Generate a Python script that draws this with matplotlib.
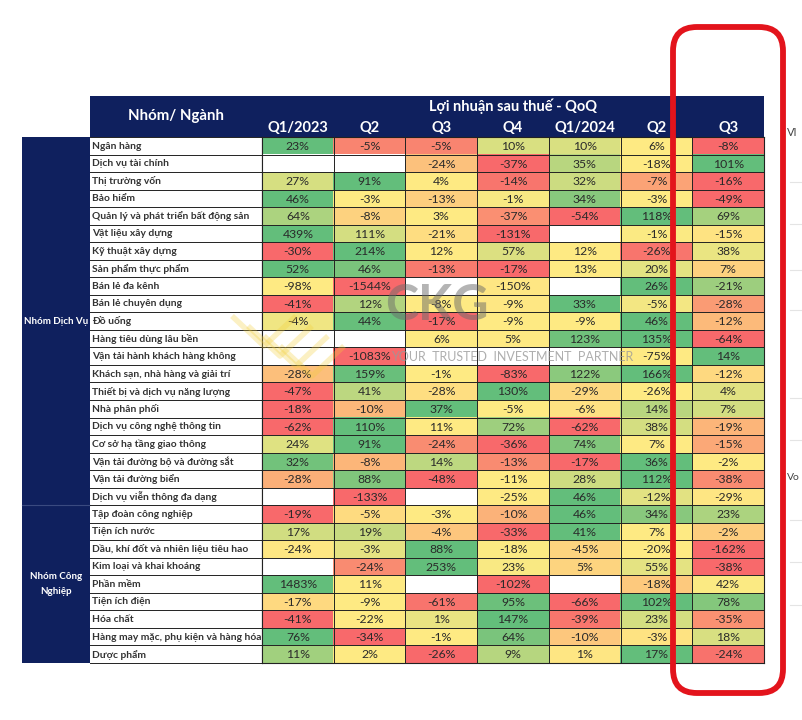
import numpy as np
import matplotlib
matplotlib.use("Agg")
import matplotlib.pyplot as plt
from matplotlib.colors import LinearSegmentedColormap, TwoSlopeNorm
from matplotlib.patches import Rectangle, FancyBboxPatch

nan = np.nan

title = "Lợi nhuận sau thuế - QoQ"
corner_label = "Nhóm/ Ngành"
quarters = ["Q1/2023", "Q2", "Q3", "Q4", "Q1/2024", "Q2", "Q3"]

groups = ["Nhóm Dịch Vụ", "Nhóm Công\nNghiệp"]
group_sizes = [21, 9]

industries = [
    "Ngân hàng", "Dịch vụ tài chính", "Thị trường vốn", "Bảo hiểm",
    "Quản lý và phát triển bất động sản", "Vật liệu xây dựng", "Kỹ thuật xây dựng",
    "Sản phẩm thực phẩm", "Bán lẻ đa kênh", "Bán lẻ chuyên dụng", "Đồ uống",
    "Hàng tiêu dùng lâu bền", "Vận tải hành khách hàng không",
    "Khách sạn, nhà hàng và giải trí", "Thiết bị và dịch vụ năng lượng",
    "Nhà phân phối", "Dịch vụ công nghệ thông tin", "Cơ sở hạ tầng giao thông",
    "Vận tải đường bộ và đường sắt", "Vận tải đường biển", "Dịch vụ viễn thông đa dạng",
    "Tập đoàn công nghiệp", "Tiện ích nước", "Dầu, khí đốt và nhiên liệu tiêu hao",
    "Kim loại và khai khoáng", "Phần mềm", "Tiện ích điện", "Hóa chất",
    "Hàng may mặc, phụ kiện và hàng hóa", "Dược phẩm",
]

q1_2023 = [23, nan, 27, 46, 64, 439, -30, 52, -98, -41, -4, nan, nan, -28, -47, -18, -62, 24, 32, -28, nan,
           -19, 17, -24, nan, 1483, -17, -41, 76, 11]
q2_2023 = [-5, nan, 91, -3, -8, 111, 214, 46, -1544, 12, 44, nan, -1083, 159, 41, -10, 110, 91, -8, 88, -133,
           -5, 19, -3, -24, 11, -9, -22, -34, 2]
q3_2023 = [-5, -24, 4, -13, 3, -21, 12, -13, nan, -8, -17, 6, nan, -1, -28, 37, 11, -24, 14, -48, nan,
           -3, -4, 88, 253, nan, -61, 1, -1, -26]
q4_2023 = [10, -37, -14, -1, -37, -131, 57, -17, -150, -9, -9, 5, nan, -83, 130, -5, 72, -36, -13, -11, -25,
           -10, -33, -18, 23, -102, 95, 147, 64, 9]
q1_2024 = [10, 35, 32, 34, -54, nan, 12, 13, nan, 33, -9, 123, nan, 122, -29, -6, -62, 74, -17, 28, 46,
           46, 41, -45, 5, nan, -66, -39, -10, 1]
q2_2024 = [6, -18, -7, -3, 118, -1, -26, 20, 26, -5, 46, 135, -75, 166, -26, 14, 38, 7, 36, 112, -12,
           34, 7, -20, 55, -18, 102, 23, -3, 17]
q3_2024 = [-8, 101, -16, -49, 69, -15, 38, 7, -21, -28, -12, -64, 14, -12, 4, 7, -19, -15, -2, -38, -29,
           23, -2, -162, -38, 42, 78, -35, 18, -24]

values = np.array([q1_2023, q2_2023, q3_2023, q4_2023, q1_2024, q2_2024, q3_2024], dtype=float).T
nrows, ncols = values.shape

navy = "#0F205E"
cmap = LinearSegmentedColormap.from_list("excel3", ["#F8696B", "#FFEB84", "#63BE7B"])

# per-row 3-colour scale (min - median - max), as Excel conditional formatting
rgba = np.ones((nrows, ncols, 4))
for r in range(nrows):
    row = values[r]
    ok = ~np.isnan(row)
    vmin, vmax, vmed = np.nanmin(row), np.nanmax(row), np.nanmedian(row)
    if vmin < vmed < vmax:
        norm = TwoSlopeNorm(vcenter=vmed, vmin=vmin, vmax=vmax)
    else:
        norm = plt.Normalize(vmin, vmax)
    rgba[r, ok] = cmap(norm(row[ok]))

W, H = 802, 720
plt.rcParams["font.family"] = ["Lato", "DejaVu Sans"]
fig = plt.figure(figsize=(W / 100, H / 100), dpi=100)

# layout (pixels)
X_GROUP, X_NAME, X_DATA, X_END = 22, 90, 262, 764
Y_HEAD, Y_BODY, Y_END = 96, 137, 663
row_h = (Y_END - Y_BODY) / nrows
col_w = (X_END - X_DATA) / ncols

bg = fig.add_axes([0, 0, 1, 1])
bg.set_xlim(0, W)
bg.set_ylim(H, 0)
bg.axis("off")

# header
bg.add_patch(Rectangle((X_NAME, Y_HEAD), X_END - X_NAME, Y_BODY - Y_HEAD, color=navy, lw=0))
bg.text((X_NAME + X_DATA) / 2, 116, corner_label, color="white", fontsize=10.8,
        fontweight="bold", ha="center", va="center")
bg.text((X_DATA + X_END) / 2, 106, title, color="white", fontsize=10.5,
        fontweight="bold", ha="center", va="center")
for j, q in enumerate(quarters):
    bg.text(X_DATA + (j + 0.5) * col_w, 128.5, q, color="white", fontsize=10.5,
            fontweight="bold", ha="center", va="center")

# group column
bg.add_patch(Rectangle((X_GROUP, Y_BODY), X_NAME - X_GROUP, Y_END - Y_BODY, color=navy, lw=0))
start = 0
for g, n in zip(groups, group_sizes):
    yc = Y_BODY + (start + n / 2) * row_h
    bg.text((X_GROUP + X_NAME) / 2 + 0.5, yc, g, color="white", fontsize=7.1,
            fontweight="bold", ha="center", va="center", linespacing=1.8)
    start += n
    if start < nrows:
        yb = Y_BODY + start * row_h
        bg.plot([X_GROUP, X_NAME], [yb, yb], color="#3a4a80", lw=0.8)

# industry names
for i, name in enumerate(industries):
    yc = Y_BODY + (i + 0.5) * row_h
    bg.text(X_NAME + 2.5, yc + 0.3, name, color="#333333", fontsize=7.4,
            fontweight="bold", ha="left", va="center")
for i in range(nrows + 1):
    y = Y_BODY + i * row_h
    bg.plot([X_NAME, X_DATA], [y, y], color="#222222", lw=0.7)
bg.plot([X_DATA, X_DATA], [Y_BODY, Y_END], color="#222222", lw=0.8)

# right-side screenshot remnants
bg.text(787, 133, "VI", fontsize=8, color="#444444", ha="left", va="center")
bg.text(787, 478, "Vo", fontsize=7.5, color="#444444", ha="left", va="center")
for y in [182, 224, 270, 310, 398, 440, 520, 562, 605]:
    bg.plot([790, 802], [y, y], color="#e4e4e4", lw=0.8)

# heat grid
ax = fig.add_axes([X_DATA / W, 1 - Y_END / H, (X_END - X_DATA) / W, (Y_END - Y_BODY) / H])
ax.imshow(rgba, aspect="auto", interpolation="nearest",
          extent=(-0.5, ncols - 0.5, nrows - 0.5, -0.5))
ax.set_xlim(-0.5, ncols - 0.5)
ax.set_ylim(nrows - 0.5, -0.5)
for i in range(nrows + 1):
    ax.axhline(i - 0.5, color="#222222", lw=0.7)
for j in range(ncols + 1):
    ax.axvline(j - 0.5, color="#222222", lw=0.7)
for i in range(nrows):
    for j in range(ncols):
        v = values[i, j]
        if not np.isnan(v):
            ax.text(j, i + 0.04, f"{v:.0f}%", ha="center", va="center",
                    fontsize=8.8, color="#2a2a2a")
ax.set_xticks([])
ax.set_yticks([])
for s in ax.spines.values():
    s.set_color("#222222")
    s.set_linewidth(0.8)

# overlay: watermark + red highlight
ov = fig.add_axes([0, 0, 1, 1], zorder=5)
ov.set_xlim(0, W)
ov.set_ylim(H, 0)
ov.axis("off")
ov.patch.set_alpha(0)
for k in range(4):
    ov.plot([232 + k * 16, 264 + k * 16, 296 + k * 16], [316 + k * 10, 346 + k * 10, 316 + k * 10],
            color="#f2cf3b", lw=4, alpha=0.3, solid_capstyle="butt")
ov.text(437, 305, "CKG", fontsize=36, fontweight="bold", color="#6b6b6b",
        alpha=0.5, ha="center", va="center")
ov.text(512, 357, "YOUR  TRUSTED  INVESTMENT  PARTNER", fontsize=9,
        color="#9a9a9a", alpha=0.8, ha="center", va="center")

red = FancyBboxPatch((673 + 24, 27 + 24), 783 - 673 - 48, 693 - 27 - 48,
                     boxstyle="round,pad=24", fill=False, ec="#E3141C", lw=4.2)
ov.add_patch(red)

fig.savefig("out.png", dpi=100)
